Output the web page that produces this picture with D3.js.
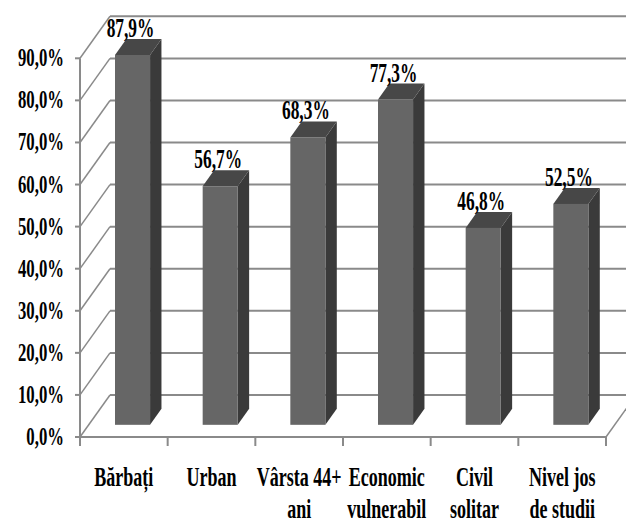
<!DOCTYPE html>
<html>
<head>
<meta charset="utf-8">
<script src="https://cdn.jsdelivr.net/npm/d3@7"></script>
<style>
  html, body { margin: 0; padding: 0; background: #fff; }
  svg { display: block; }
</style>
</head>
<body>
<svg id="chart" width="626" height="524"></svg>
<script>
// Categories (each entry is a list of label lines) and their shares in percent
const categories = ["Bărbați", "Urban", "Vârsta 44+ ani", "Economic vulnerabil", "Civil solitar", "Nivel jos de studii"];
const categoryLines = [["Bărbați"], ["Urban"], ["Vârsta 44+", "ani"], ["Economic", "vulnerabil"], ["Civil", "solitar"], ["Nivel jos", "de studii"]];
const values = [87.9, 56.7, 68.3, 77.3, 46.8, 52.5];
const yTicks = [0, 10, 20, 30, 40, 50, 60, 70, 80, 90];

const fmt = v => d3.format(".1f")(v).replace(".", ",") + "%";
const FONT = "'Liberation Serif', 'DejaVu Serif', serif";

const svg = d3.select("#chart");
const W = 626;

// Shared lettering style
function lettering(sel, size) {
  return sel.attr("font-family", FONT).attr("font-weight", "bold")
    .attr("font-size", size).attr("fill", "#000");
}

// Front plane of the 3D box
const x = d3.scaleBand().domain(categories).range([80, 606]).padding(0);
const y = d3.scaleLinear().domain([0, 90]).range([437, 58.3]);

// Depth vector of the box (front -> back wall)
const DX = 30, DY = -42;
const barFront = 0.29, barBack = 0.67;   // bar position within the depth
const barW = x.bandwidth() * 0.4;

const grid = "#8a8a8a";
const cFront = "#666666", cTop = "#474747", cSide = "#3a3a3a";

// Narrow lettering: squeeze the bold serif so "90,0%" at 26px is 46px wide
const probe = lettering(svg.append("text"), 26).text("90,0%");
const sx = 46 / probe.node().getComputedTextLength();
probe.remove();

// Back wall grid lines
svg.append("g").selectAll("line").data(yTicks).join("line")
  .attr("x1", 80 + DX).attr("x2", W)
  .attr("y1", d => y(d) + DY).attr("y2", d => y(d) + DY)
  .attr("stroke", grid).attr("stroke-width", 2);

// Side wall diagonals
svg.append("g").selectAll("line").data(yTicks).join("line")
  .attr("x1", 80).attr("y1", d => y(d))
  .attr("x2", 80 + DX).attr("y2", d => y(d) + DY)
  .attr("stroke", grid).attr("stroke-width", 1.5);

// Floor: front edge and right diagonal
svg.append("line").attr("x1", 80).attr("x2", 606).attr("y1", y(0)).attr("y2", y(0))
  .attr("stroke", grid).attr("stroke-width", 2);
svg.append("line").attr("x1", 606).attr("y1", y(0)).attr("x2", 606 + DX).attr("y2", y(0) + DY)
  .attr("stroke", grid).attr("stroke-width", 1.5);

// Bars as boxes
const bars = svg.append("g").selectAll("g").data(values).join("g");
bars.each(function(v, i) {
  const g = d3.select(this);
  const cx = x(categories[i]) + x.bandwidth() / 2;
  const fx0 = cx - barW / 2 + DX * barFront;
  const fx1 = fx0 + barW;
  const fyB = y(0) + DY * barFront;
  const fyT = y(v) + DY * barFront;
  const ddx = DX * (barBack - barFront), ddy = DY * (barBack - barFront);
  // side
  g.append("path")
    .attr("d", `M${fx1},${fyT} L${fx1 + ddx},${fyT + ddy} L${fx1 + ddx},${fyB + ddy} L${fx1},${fyB} Z`)
    .attr("fill", cSide);
  // top
  g.append("path")
    .attr("d", `M${fx0},${fyT} L${fx0 + ddx},${fyT + ddy} L${fx1 + ddx},${fyT + ddy} L${fx1},${fyT} Z`)
    .attr("fill", cTop);
  // front
  g.append("rect")
    .attr("x", fx0).attr("y", fyT).attr("width", barW).attr("height", fyB - fyT)
    .attr("fill", cFront);
  // value label
  lettering(g.append("text"), 27)
    .attr("transform", `translate(${cx + DX * barFront - 2},${fyT + ddy - 2}) scale(${sx},1)`)
    .attr("text-anchor", "middle")
    .text(fmt(v));
});

// Front vertical axis with ticks
svg.append("line").attr("x1", 80).attr("x2", 80).attr("y1", y(90)).attr("y2", y(0) + 3)
  .attr("stroke", grid).attr("stroke-width", 2);
svg.append("g").selectAll("line").data(yTicks).join("line")
  .attr("x1", 75).attr("x2", 80).attr("y1", d => y(d)).attr("y2", d => y(d))
  .attr("stroke", grid).attr("stroke-width", 2);
lettering(svg.append("g").selectAll("text").data(yTicks).join("text"), 26)
  .attr("transform", d => `translate(64,${y(d) + 8}) scale(${sx},1)`)
  .attr("text-anchor", "end")
  .text(d => fmt(d));

// Category boundary ticks
const bounds = categories.map(c => x(c)).concat([x(categories[categories.length - 1]) + x.bandwidth()]);
svg.append("g").selectAll("line").data(bounds).join("line")
  .attr("x1", d => d).attr("x2", d => d).attr("y1", y(0)).attr("y2", y(0) + 9)
  .attr("stroke", grid).attr("stroke-width", 2);

// Category labels
const cl = lettering(svg.append("g").selectAll("text").data(categories).join("text"), 28)
  .attr("transform", d => `translate(${x(d) + x.bandwidth() / 2},486) scale(${sx},1)`)
  .attr("text-anchor", "middle");
cl.each(function(d, i) {
  const t = d3.select(this);
  categoryLines[i].forEach((line, k) => {
    t.append("tspan").attr("x", 0).attr("dy", k === 0 ? 0 : 32).text(line);
  });
});
</script>
</body>
</html>
